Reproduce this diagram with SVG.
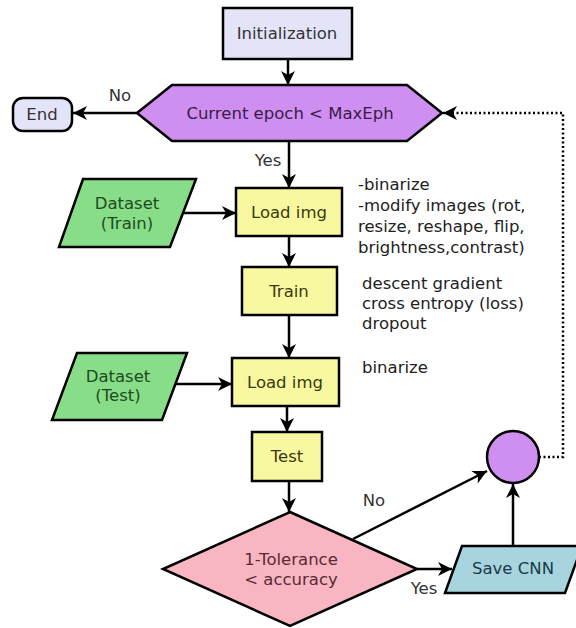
<svg xmlns="http://www.w3.org/2000/svg" width="576" height="628" viewBox="0 0 576 628">
<defs>
<marker id="ah" markerUnits="userSpaceOnUse" markerWidth="16" markerHeight="16" viewBox="0 0 16 16" refX="15" refY="8" orient="auto">
<path d="M1,1 L15,8 L1,15 L5,8 Z" fill="#000"/>
</marker>
<style>
text{font-family:"DejaVu Sans","Liberation Sans",sans-serif;font-size:16.5px;}
.c{text-anchor:middle;}
.sh{stroke:#000;stroke-width:2.5;}
.ln{stroke:#000;stroke-width:2.5;fill:none;marker-end:url(#ah);}
.lab{fill:#333;}
.note{fill:#222;}
</style>
</defs>
<rect width="576" height="628" fill="#fff"/>

<g id="connectors">
<line class="ln" x1="288" y1="60" x2="288" y2="85"/>
<line class="ln" x1="137" y1="113" x2="73" y2="113"/>
<line class="ln" x1="289" y1="141" x2="289" y2="188"/>
<line class="ln" x1="183" y1="213" x2="236" y2="213"/>
<line class="ln" x1="289" y1="236" x2="289" y2="267"/>
<line class="ln" x1="289" y1="315" x2="289" y2="358"/>
<line class="ln" x1="175" y1="384" x2="232" y2="384"/>
<line class="ln" x1="287" y1="406" x2="287" y2="432"/>
<line class="ln" x1="289" y1="481" x2="289" y2="512"/>
<line class="ln" x1="353" y1="539" x2="487" y2="471"/>
<line class="ln" x1="417" y1="569" x2="452" y2="569"/>
<line class="ln" x1="513" y1="546" x2="513" y2="484"/>
<path d="M539,457 H563 V113 H443" fill="none" stroke="#000" stroke-width="2.5" stroke-dasharray="2,2.5" marker-end="url(#ah)"/>
<text class="lab c" x="120" y="101">No</text>
<text class="lab c" x="268" y="166">Yes</text>
<text class="lab c" x="374" y="506">No</text>
<text class="lab c" x="424" y="594">Yes</text>
</g>

<g id="init">
<rect class="sh" x="223" y="8" width="129" height="51" fill="#e4e4f8"/>
<text class="c" x="287" y="39" fill="#333">Initialization</text>
</g>

<g id="epoch">
<polygon class="sh" points="137,113 172,85 407,85 442,113 407,141 172,141" fill="#cf8ff0"/>
<text class="c" x="290" y="119" fill="#3a1a48">Current epoch &lt; MaxEph</text>
</g>

<g id="end">
<rect class="sh" x="13" y="98" width="59" height="33" rx="10" fill="#e4e4f8"/>
<text class="c" x="42" y="120" fill="#333">End</text>
</g>

<g id="dataset-train">
<polygon class="sh" points="83,179 196,179 170,247 59,247" fill="#88dd88"/>
<text class="c" x="127" y="209" fill="#1e4a1e">Dataset</text>
<text class="c" x="127" y="229" fill="#1e4a1e">(Train)</text>
</g>

<g id="load-train">
<rect class="sh" x="236" y="188" width="106" height="48" fill="#f8f8a0"/>
<text class="c" x="289" y="218" fill="#3a3a10">Load img</text>
</g>

<g id="train">
<rect class="sh" x="242" y="267" width="95" height="48" fill="#f8f8a0"/>
<text class="c" x="289" y="297" fill="#3a3a10">Train</text>
</g>

<g id="dataset-test">
<polygon class="sh" points="77,353 187,353 162,420 52,420" fill="#88dd88"/>
<text class="c" x="118" y="382" fill="#1e4a1e">Dataset</text>
<text class="c" x="118" y="401" fill="#1e4a1e">(Test)</text>
</g>

<g id="load-test">
<rect class="sh" x="232" y="358" width="107" height="48" fill="#f8f8a0"/>
<text class="c" x="285" y="388" fill="#3a3a10">Load img</text>
</g>

<g id="test">
<rect class="sh" x="252" y="432" width="70" height="49" fill="#f8f8a0"/>
<text class="c" x="287" y="462" fill="#3a3a10">Test</text>
</g>

<g id="decision">
<polygon class="sh" points="290,512 417,569 290,626 163,569" fill="#f7b6c2"/>
<text class="c" x="291" y="565" fill="#5a2a32">1-Tolerance</text>
<text class="c" x="291" y="585" fill="#5a2a32">&lt; accuracy</text>
</g>

<g id="save-cnn">
<polygon class="sh" points="462,546 582,546 565,593 445,593" fill="#a8d4e0"/>
<text class="c" x="513" y="574" fill="#1a3a48">Save CNN</text>
</g>

<g id="merge">
<circle class="sh" cx="513" cy="457" r="26" fill="#cf8ff0"/>
</g>

<g id="notes">
<text class="note" x="358" y="190">-binarize</text>
<text class="note" x="358" y="211">-modify images (rot,</text>
<text class="note" x="358" y="232">resize, reshape, flip,</text>
<text class="note" x="358" y="253">brightness,contrast)</text>
<text class="note" x="362" y="289">descent gradient</text>
<text class="note" x="362" y="309">cross entropy (loss)</text>
<text class="note" x="362" y="329">dropout</text>
<text class="note" x="362" y="373">binarize</text>
</g>
</svg>
